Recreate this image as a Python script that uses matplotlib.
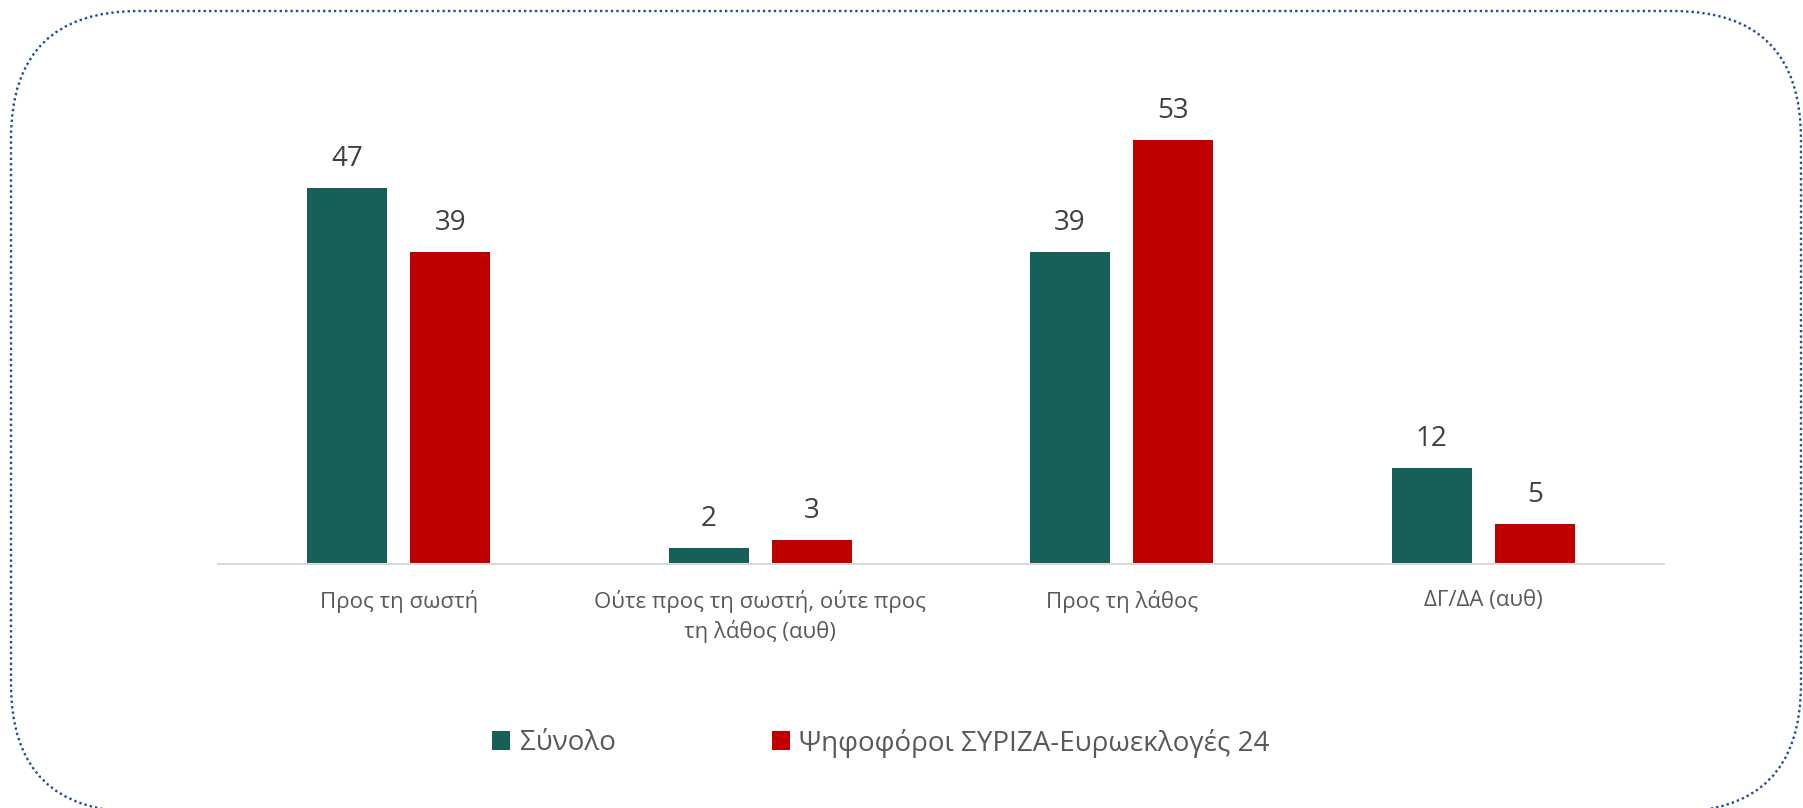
import matplotlib
matplotlib.use("Agg")
import matplotlib.pyplot as plt
from matplotlib.patches import FancyBboxPatch
from matplotlib.transforms import IdentityTransform
import numpy as np

plt.rcParams["font.family"] = ["Open Sans", "DejaVu Sans"]

# data
categories = ["Προς τη σωστή",
              "Ούτε προς τη σωστή, ούτε προς\nτη λάθος (αυθ)",
              "Προς τη λάθος",
              "ΔΓ/ΔΑ (αυθ)"]
series_names = ["Σύνολο", "Ψηφοφόροι ΣΥΡΙΖΑ-Ευρωεκλογές 24"]
total = [47, 2, 39, 12]
syriza = [39, 3, 53, 5]

green = "#17605a"
red = "#c00000"
txt = "#595959"

fig = plt.figure(figsize=(18.03, 8.08), dpi=100)
ax = fig.add_axes([218 / 1803, 244 / 808, 1446 / 1803, 480 / 808])

x = np.arange(len(categories))
w = 0.221
off = 0.143
b1 = ax.bar(x - off, total, w, color=green, label=series_names[0])
b2 = ax.bar(x + off, syriza, w, color=red, label=series_names[1])

for bars in (b1, b2):
    for r in bars:
        ax.annotate(f"{r.get_height():g}", (r.get_x() + r.get_width() / 2, r.get_height()),
                    xytext=(0, 16), textcoords="offset points", ha="center", va="baseline",
                    fontsize=20, color="#404040")

ax.set_xlim(-0.5, 3.5)
ax.set_ylim(0, 60)
ax.set_xticks(x)
ax.set_xticklabels(categories, fontsize=16, color=txt, linespacing=1.35)
ax.tick_params(axis="x", length=0, pad=19)
ax.set_yticks([])
for s in ["top", "left", "right"]:
    ax.spines[s].set_visible(False)
ax.spines["bottom"].set_color("#d9d9d9")
ax.spines["bottom"].set_linewidth(1.5)

fig.legend(handles=[b1, b2], loc="center", bbox_to_anchor=(881 / 1803, 65 / 808),
           ncol=2, frameon=False, fontsize=20, labelcolor=txt,
           handlelength=0.65, handleheight=0.65, handletextpad=0.35, columnspacing=5.6)

# dotted rounded frame (pixel coords, origin bottom-left)
frame = FancyBboxPatch((11, -4), 1790, 801, boxstyle="round,pad=0,rounding_size=128",
                       transform=IdentityTransform(), fill=False, edgecolor="#1f4e99",
                       linewidth=1.7, linestyle=(0, (1, 1.3)), clip_on=False)
fig.patches.append(frame)

fig.savefig("out.png", dpi=100)
print("[OK] out.png")
